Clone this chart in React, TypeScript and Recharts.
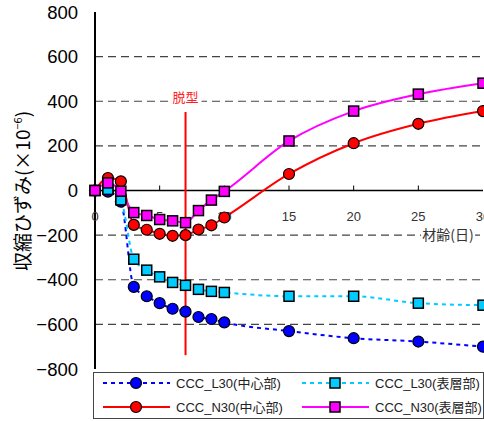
import React from "react";
import {
  LineChart,
  Line,
  XAxis,
  YAxis,
  ReferenceLine,
  ReferenceDot,
} from "recharts";

// 材齢(日)
const days = [0, 1, 2, 3, 4, 5, 6, 7, 8, 9, 10, 15, 20, 25, 30];

// 収縮ひずみ (×10^-6)
const l30Center = [0, -5, -50, -432, -474, -505, -530, -543, -567, -576, -591, -630, -662, -677, -700];
const l30Surface = [0, 5, -42, -308, -357, -387, -412, -425, -443, -452, -457, -474, -474, -505, -514];
const n30Center = [0, 56, 41, -154, -176, -194, -203, -200, -175, -156, -121, 74, 212, 299, 356];
const n30Surface = [0, 34, -3, -99, -112, -130, -136, -144, -90, -43, -4, 222, 356, 432, 481];

const xTicks = [0, 5, 10, 15, 20, 25, 30];
const yTicks = [-800, -600, -400, -200, 0, 200, 400, 600, 800];
const gridValues = [-600, -400, -200, 200, 400, 600];

// 脱型 marker
const demoldDay = 7;
const demoldRange = [-738, 352];

const data = days.map((day, i) => ({
  day,
  l30c: l30Center[i],
  l30s: l30Surface[i],
  n30c: n30Center[i],
  n30s: n30Surface[i],
}));

type Series = {
  key: string;
  name: string;
  color: string;
  dash?: string;
  shape: "circle" | "square";
};

const SERIES: Series[] = [
  { key: "l30c", name: "CCC_L30(中心部)", color: "#0000ff", dash: "4 4", shape: "circle" },
  { key: "l30s", name: "CCC_L30(表層部)", color: "#00ccff", dash: "4 4", shape: "square" },
  { key: "n30c", name: "CCC_N30(中心部)", color: "#ff0000", shape: "circle" },
  { key: "n30s", name: "CCC_N30(表層部)", color: "#ff00ff", shape: "square" },
];

const JP_FONT = "'Noto Sans CJK JP', 'Liberation Sans', sans-serif";
const NUM_FONT = "'Liberation Sans', Arial, 'Noto Sans CJK JP', sans-serif";
const FRAME_LINE = { stroke: "#000", strokeWidth: 2 };

function Marker({ cx, cy, color, shape }: { cx: number; cy: number; color: string; shape: string }) {
  if (shape === "square") {
    return (
      <rect x={cx - 5} y={cy - 5} width={10} height={10} fill={color} stroke="#000" strokeWidth={1.5} />
    );
  }
  return <circle cx={cx} cy={cy} r={5.5} fill={color} stroke="#000" strokeWidth={1.2} />;
}

function makeDot(s: Series) {
  return (props: any) => {
    const { cx, cy, index } = props;
    if (cx == null || cy == null) return <g key={`${s.key}-${index}`} />;
    return (
      <g key={`${s.key}-${index}`}>
        <Marker cx={cx} cy={cy} color={s.color} shape={s.shape} />
      </g>
    );
  };
}

function YAxisTitle() {
  return (
    <text
      transform="translate(30, 191) rotate(-90)"
      textAnchor="middle"
      fontFamily={JP_FONT}
      fontSize={19}
      fill="#000"
    >
      収縮ひずみ(×10
      <tspan dy={-8} fontSize={11}>−6</tspan>
      <tspan dy={8}>)</tspan>
    </text>
  );
}

function Legend() {
  const colX = [10, 209];
  const rowY = [11, 35];
  return (
    <div
      style={{
        position: "absolute",
        left: 93,
        top: 372,
        width: 391,
        height: 47,
        border: "1.5px solid #444",
        boxSizing: "border-box",
        background: "#fff",
      }}
    >
      <svg width={388} height={44} style={{ position: "absolute", left: -1.5, top: -1.5, overflow: "visible" }}>
        {SERIES.map((s, i) => {
          const x = colX[i % 2];
          const y = rowY[Math.floor(i / 2)];
          return (
            <g key={s.key}>
              <line x1={x} x2={x + 67} y1={y} y2={y} stroke={s.color} strokeWidth={2} strokeDasharray={s.dash} />
              <Marker cx={x + 33} cy={y} color={s.color} shape={s.shape} />
              <text x={x + 73} y={y + 4.5} fontFamily={NUM_FONT} fontSize={13} fill="#222">
                {s.name}
              </text>
            </g>
          );
        })}
      </svg>
    </div>
  );
}

export default function App() {
  return (
    <div
      style={{
        position: "fixed",
        left: 0,
        top: 0,
        width: 484,
        height: 421,
        overflow: "hidden",
        background: "#fff",
      }}
    >
      <div style={{ position: "absolute", left: 0, top: 0 }}>
        <LineChart
          width={491}
          height={421}
          data={data}
          margin={{ top: 12, right: 8, bottom: 52, left: 0 }}
        >
          {/* bottom and top edges of the frame */}
          <XAxis
            dataKey="day"
            type="number"
            domain={[0, 30]}
            ticks={xTicks}
            tick={false}
            tickLine={false}
            height={0}
            axisLine={FRAME_LINE}
          />
          <XAxis
            xAxisId="top"
            orientation="top"
            dataKey="day"
            type="number"
            domain={[0, 30]}
            tick={false}
            tickLine={false}
            height={0}
            axisLine={FRAME_LINE}
          />
          <YAxis
            type="number"
            domain={[-800, 800]}
            ticks={yTicks}
            interval={0}
            width={95}
            tickLine={false}
            tickMargin={11}
            axisLine={FRAME_LINE}
            tick={{ fontSize: 18.5, fill: "#000", fontFamily: NUM_FONT }}
            tickFormatter={(v: number) => String(v).replace("-", "−")}
            label={{ content: () => <YAxisTitle /> }}
          />
          <YAxis
            yAxisId="right"
            orientation="right"
            type="number"
            domain={[-800, 800]}
            tick={false}
            tickLine={false}
            width={0}
            axisLine={FRAME_LINE}
          />

          {gridValues.map((v) => (
            <ReferenceLine key={v} y={v} stroke="#444" strokeWidth={1.2} strokeDasharray="8 5" />
          ))}
          <ReferenceLine y={0} stroke="#000" strokeWidth={1.5} />

          {xTicks.map((t) => (
            <ReferenceDot
              key={`tick-${t}`}
              x={t}
              y={0}
              r={0}
              ifOverflow="visible"
              shape={(p: any) => (
                <g>
                  {t > 0 && t < 30 && (
                    <line x1={p.cx} x2={p.cx} y1={p.cy} y2={p.cy - 5} stroke="#000" strokeWidth={1} />
                  )}
                  <text
                    x={p.cx}
                    y={p.cy + 30}
                    textAnchor="middle"
                    fontFamily={NUM_FONT}
                    fontSize={13}
                    fill="#333"
                  >
                    {t}
                  </text>
                </g>
              )}
            />
          ))}

          <ReferenceDot
            x={27.3}
            y={-200}
            r={0}
            shape={(p: any) => (
              <g>
                <rect x={p.cx - 27} y={p.cy - 9} width={54} height={18} fill="#fff" />
                <text x={p.cx} y={p.cy + 5} textAnchor="middle" fontFamily={JP_FONT} fontSize={14} fill="#333">
                  材齢(日)
                </text>
              </g>
            )}
          />

          <ReferenceLine
            segment={[
              { x: demoldDay, y: demoldRange[0] },
              { x: demoldDay, y: demoldRange[1] },
            ]}
            stroke="#ff0000"
            strokeWidth={2}
          />
          <ReferenceDot
            x={demoldDay}
            y={420}
            r={0}
            shape={(p: any) => (
              <g>
                <rect x={p.cx - 16} y={p.cy - 8} width={32} height={16} fill="#fff" />
                <text x={p.cx} y={p.cy + 5} textAnchor="middle" fontFamily={JP_FONT} fontSize={13} fill="#ff2020">
                  脱型
                </text>
              </g>
            )}
          />

          {SERIES.map((s) => (
            <Line
              key={s.key}
              dataKey={s.key}
              name={s.name}
              type="monotone"
              stroke={s.color}
              strokeWidth={2}
              strokeDasharray={s.dash}
              dot={makeDot(s)}
              activeDot={false}
              isAnimationActive={false}
            />
          ))}
        </LineChart>
      </div>
      <Legend />
    </div>
  );
}
